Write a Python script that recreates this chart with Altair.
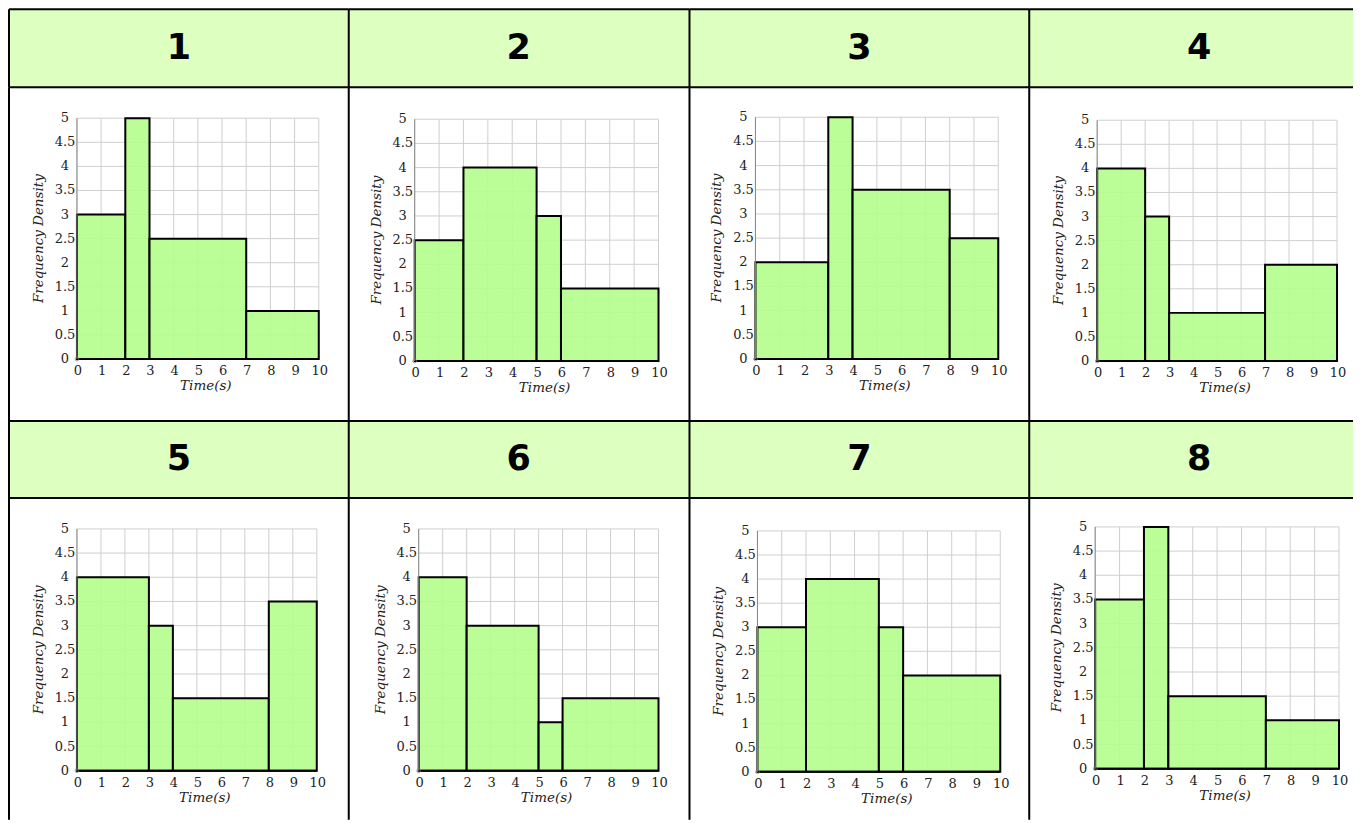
import altair as alt
import pandas as pd

# ---------------- data ----------------
panel_labels = ["1", "2", "3", "4", "5", "6", "7", "8"]
bin_starts = [
    [0, 2, 3, 7],
    [0, 2, 5, 6],
    [0, 3, 4, 8],
    [0, 2, 3, 7],
    [0, 3, 4, 8],
    [0, 2, 5, 6],
    [0, 2, 5, 6],
    [0, 2, 3, 7],
]
bin_ends = [
    [2, 3, 7, 10],
    [2, 5, 6, 10],
    [3, 4, 8, 10],
    [2, 3, 7, 10],
    [3, 4, 8, 10],
    [2, 5, 6, 10],
    [2, 5, 6, 10],
    [2, 3, 7, 10],
]
freq_density = [
    [3, 5, 2.5, 1],
    [2.5, 4, 3, 1.5],
    [2, 5, 3.5, 2.5],
    [4, 3, 1, 2],
    [4, 3, 1.5, 3.5],
    [4, 3, 1, 1.5],
    [3, 4, 3, 2],
    [3.5, 5, 1.5, 1],
]
x_ticks = [0, 1, 2, 3, 4, 5, 6, 7, 8, 9, 10]
x_tick_labels = ["0", "1", "2", "3", "4", "5", "6", "7", "8", "9", "10"]
y_ticks = [0, 0.5, 1, 1.5, 2, 2.5, 3, 3.5, 4, 4.5, 5]
y_tick_labels = ["0", "0.5", "1", "1.5", "2", "2.5", "3", "3.5", "4", "4.5", "5"]
x_title = "Time(s)"
y_title = "Frequency Density"
x_max = 10
y_max = 5

# ---------------- layout / style ----------------
FULL_W = 340          # nominal table column width
COL_W = [340, 341, 340, 324]   # last column is cut by the window edge
HEADER_H = [78, 77]
HIST_H = [334, 322]
# per panel: (x0 px, x10 px, y5 px, y0 px) inside its cell
plot_box = [
    (68, 310, 31, 272),
    (66, 310, 32, 274),
    (66, 309, 30, 272),
    (68, 308, 33, 274),
    (68, 308, 31, 273),
    (70, 310, 31, 273),
    (68, 311, 33, 274),
    (66, 310, 29, 271),
]
HEADER_FILL = "#ddffc0"
BAR_FILL = "#b4fd8c"
GRID = "#cfcfcf"
SERIF = "DejaVu Serif"
TICK_SIZE = 13
TITLE_SIZE = 13.5
BORDER_W = 2


def borders(w, h):
    """Left and top borders of a table cell."""
    d = alt.Data(values=[{"k": 0}])
    left = alt.Chart(d).mark_rule(color="black", strokeWidth=BORDER_W).encode(
        x=alt.value(0), y=alt.value(0), y2=alt.value(h)
    )
    top = alt.Chart(d).mark_rule(color="black", strokeWidth=BORDER_W).encode(
        y=alt.value(0), x=alt.value(0), x2=alt.value(w)
    )
    return [left, top]


def header(label, w, h):
    txt = (
        alt.Chart(alt.Data(values=[{"label": label}]))
        .mark_text(
            font="DejaVu Sans", fontSize=35, fontWeight="bold", color="black",
            dx=(FULL_W - w) / 2,
        )
        .encode(text="label:N")
    )
    return alt.layer(txt, *borders(w, h)).properties(
        width=w, height=h, view=alt.ViewBackground(fill=HEADER_FILL, stroke=None)
    )


def hist(i, w, h):
    L, R, T, B = plot_box[i]
    sx = (R - L) / x_max
    sy = (B - T) / y_max
    xs = alt.Scale(domain=[-L / sx, x_max + (w - R) / sx], nice=False, zero=False)
    ys = alt.Scale(domain=[-(h - B) / sy, y_max + T / sy], nice=False, zero=False)

    def X(f):
        return alt.X(f, scale=xs, axis=None)

    def Y(f):
        return alt.Y(f, scale=ys, axis=None)

    vgrid = pd.DataFrame({"x": x_ticks, "y0": 0, "y1": y_max})
    hgrid = pd.DataFrame({"y": y_ticks, "x0": 0, "x1": x_max})
    bars = pd.DataFrame(
        {"start": bin_starts[i], "end": bin_ends[i], "fd": freq_density[i], "base": 0}
    )
    xlab = pd.DataFrame({"x": x_ticks, "y": 0, "label": x_tick_labels})
    ylab = pd.DataFrame({"y": y_ticks, "x": 0, "label": y_tick_labels})
    xt = pd.DataFrame({"x": [x_max / 2], "y": [0], "label": [x_title]})
    yt = pd.DataFrame({"x": [0], "y": [y_max / 2], "label": [y_title]})
    origin = pd.DataFrame({"x": [0], "y": [0]})

    layers = [
        alt.Chart(vgrid).mark_rule(color=GRID, strokeWidth=1).encode(
            x=X("x:Q"), y=Y("y0:Q"), y2="y1"
        ),
        alt.Chart(hgrid).mark_rule(color=GRID, strokeWidth=1).encode(
            y=Y("y:Q"), x=X("x0:Q"), x2="x1"
        ),
        alt.Chart(bars).mark_rect(
            fill=BAR_FILL, fillOpacity=0.9, stroke="black", strokeWidth=2
        ).encode(x=X("start:Q"), x2="end", y=Y("base:Q"), y2="fd"),
        alt.Chart(hgrid.head(1)).mark_rule(color="black", strokeWidth=2).encode(
            y=Y("y:Q"), x=X("x0:Q"), x2="x1"
        ),
        alt.Chart(vgrid.head(1)).mark_rule(color="#888", strokeWidth=1).encode(
            x=X("x:Q"), y=Y("y0:Q"), y2="y1"
        ),
        alt.Chart(origin).mark_point(
            shape="circle", size=14, color="#777", filled=False, strokeWidth=1
        ).encode(x=X("x:Q"), y=Y("y:Q")),
        alt.Chart(xlab).mark_text(
            font=SERIF, fontSize=TICK_SIZE, color="#222", dy=12, dx=1,
            baseline="middle",
        ).encode(x=X("x:Q"), y=Y("y:Q"), text="label:N"),
        alt.Chart(ylab).mark_text(
            font=SERIF, fontSize=TICK_SIZE, color="#222", dx=-12, align="center",
            baseline="middle",
        ).encode(x=X("x:Q"), y=Y("y:Q"), text="label:N"),
        alt.Chart(xt).mark_text(
            font=SERIF, fontSize=TITLE_SIZE, fontStyle="italic", color="#222",
            dy=27, dx=8, baseline="middle",
        ).encode(x=X("x:Q"), y=Y("y:Q"), text="label:N"),
        alt.Chart(yt).mark_text(
            font=SERIF, fontSize=TITLE_SIZE, fontStyle="italic", color="#222",
            angle=270, dy=-38, baseline="middle",
        ).encode(x=X("x:Q"), y=Y("y:Q"), text="label:N"),
    ]
    return alt.layer(*layers, *borders(w, h)).properties(
        width=w, height=h, view=alt.ViewBackground(fill="white", stroke=None)
    )


cells = []
for r in range(2):
    for c in range(4):
        cells.append(header(panel_labels[r * 4 + c], COL_W[c], HEADER_H[r]))
    for c in range(4):
        cells.append(hist(r * 4 + c, COL_W[c], HIST_H[r]))

chart = (
    alt.concat(*cells, columns=4, spacing=0, bounds="flush")
    .properties(padding=0)
    .configure(background="white")
)

chart.save("out.html", embed_options={"renderer": "svg", "actions": False})
